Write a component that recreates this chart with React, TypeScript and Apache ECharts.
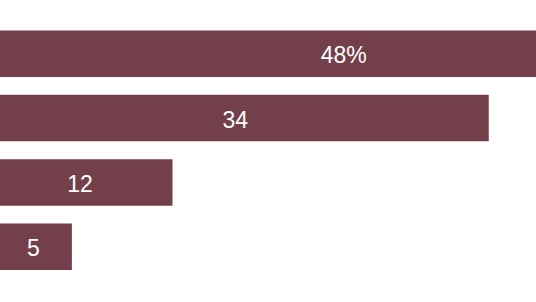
import React, { useEffect, useRef } from "react";
import * as echarts from "echarts";

const categories = ["A", "B", "C", "D"];
const values = [48, 34, 12, 5];
const labelSuffixes = ["%", "", "", ""];

// label nudges (layout only)
const labelNudge = [-1.3, -9, -6.2, -2.6];

export default function App() {
  const ref = useRef<HTMLDivElement>(null);
  useEffect(() => {
    if (!ref.current) return;
    const chart = echarts.init(ref.current, null, { renderer: "svg" });
    chart.setOption({
      animation: false,
      grid: { left: 0, top: 21.5, width: 690, height: 257.5, containLabel: false },
      xAxis: { type: "value", min: 0, max: 48, show: false },
      yAxis: {
        type: "category",
        data: categories,
        inverse: true,
        show: false,
      },
      series: [
        {
          type: "bar",
          data: values.map((v, i) => ({
            value: v,
            label: { offset: [labelNudge[i], 1.5] },
          })),
          barWidth: 46.5,
          itemStyle: { color: "#733f4a" },
          label: {
            show: true,
            position: "inside",
            color: "#ffffff",
            fontFamily: "Liberation Sans",
            fontSize: 23,
            fontWeight: "normal",
            formatter: (p: any) => `${p.value}${labelSuffixes[p.dataIndex]}`,
          },
        },
      ],
    });
    return () => chart.dispose();
  }, []);
  return (
    <div style={{ position: "fixed", left: 0, top: 0, width: 536, height: 302, overflow: "hidden", background: "#fff" }}>
      <div ref={ref} style={{ width: 700, height: 302 }} />
    </div>
  );
}
